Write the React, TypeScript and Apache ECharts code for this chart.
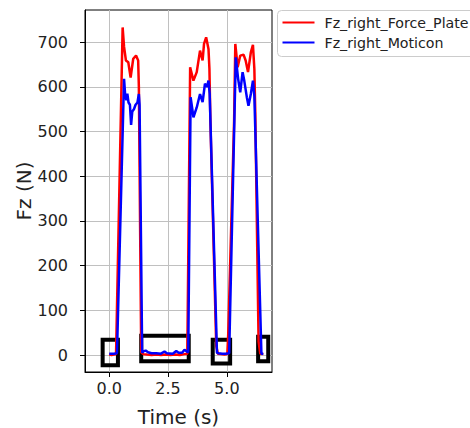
import React, { useEffect, useRef } from "react";
import * as echarts from "echarts";

const seriesNames = ["Fz_right_Force_Plate", "Fz_right_Moticon"];

const timeForcePlate = [
  0.0, 0.1, 0.2, 0.29, 0.57, 0.63, 0.71, 0.81, 0.91, 1.02, 1.14, 1.23, 1.26, 1.36,
  1.45, 1.6, 1.8, 2.0, 2.2, 2.4, 2.6, 2.8, 3.0, 3.2, 3.32, 3.44, 3.58, 3.72, 3.86,
  3.97, 4.03, 4.12, 4.22, 4.26, 4.3, 4.55, 4.62, 4.75, 4.9, 5.02, 5.06, 5.31, 5.36,
  5.46, 5.57, 5.71, 5.8, 5.9, 6.02, 6.11, 6.17, 6.21, 6.35, 6.42, 6.55,
];
const fzForcePlate = [
  1, 0, 1, 2, 733, 690, 659, 655, 621, 663, 670, 659, 600, 6,
  2, 1, 0, 1, 0, 1, 0, 1, 0, 2, 3, 644, 614, 633, 681,
  659, 696, 711, 685, 640, 525, 20, 3, 2, 1, 2, 48, 525, 696,
  644, 670, 672, 659, 633, 677, 694, 640, 540, 30, 3, 2,
];

const timeMoticon = [
  0.0, 0.1, 0.2, 0.33, 0.63, 0.68, 0.73, 0.77, 0.82, 0.88, 0.93, 0.98, 1.05, 1.12,
  1.2, 1.26, 1.29, 1.4, 1.45, 1.55, 1.65, 1.8, 2.0, 2.2, 2.35, 2.45, 2.7, 2.85, 2.95,
  3.1, 3.2, 3.3, 3.36, 3.46, 3.58, 3.72, 3.86, 3.97, 4.07, 4.16, 4.22, 4.27, 4.58,
  4.65, 4.8, 4.95, 5.1, 5.38, 5.48, 5.57, 5.67, 5.74, 5.85, 5.92, 6.02, 6.11, 6.17,
  6.47, 6.55,
];
const fzMoticon = [
  3, 3, 3, 4, 618, 580, 570, 585, 565, 560, 515, 545, 550, 560,
  565, 584, 560, 5, 8, 10, 6, 4, 4, 3, 8, 4, 3, 9, 5,
  5, 12, 8, 6, 577, 532, 554, 584, 566, 607, 600, 614, 585, 5,
  4, 3, 3, 4, 666, 618, 588, 633, 614, 577, 558, 584, 614, 580,
  3, 3,
];

const xTicks = [0, 2.5, 5.0];
const yTicks = [0, 100, 200, 300, 400, 500, 600, 700];

// highlight boxes in data coordinates: [xStart, yBottom, xEnd, yTop]
const highlightBoxes = [
  [-0.28, -23, 0.37, 34],
  [1.36, -14, 3.38, 43],
  [4.4, -19, 5.14, 34],
  [6.33, -14, 6.76, 41],
];

const FONT = "DejaVu Sans";

export default function App() {
  const ref = useRef<HTMLDivElement>(null);

  useEffect(() => {
    if (!ref.current) return;
    const chart = echarts.init(ref.current, null, { renderer: "svg" });

    const fpData = timeForcePlate.map((t, i) => [t, fzForcePlate[i]]);
    const moData = timeMoticon.map((t, i) => [t, fzMoticon[i]]);

    const option: any = {
      animation: false,
      backgroundColor: "#fff",
      grid: {
        left: 85,
        top: 10,
        width: 187,
        height: 362,
        show: true,
        borderColor: "#000",
        borderWidth: 1,
        backgroundColor: "#fff",
        outerBoundsMode: "none",
      },
      xAxis: {
        type: "value",
        min: -1.03,
        max: 6.92,
        name: "Time (s)",
        nameLocation: "middle",
        nameGap: 35,
        nameTextStyle: { fontFamily: FONT, fontSize: 20, color: "#222" },
        axisLine: { show: true, onZero: false, lineStyle: { color: "#000", width: 1 } },
        axisTick: { show: true, length: 5, customValues: xTicks, lineStyle: { color: "#000" } },
        axisLabel: {
          customValues: xTicks,
          fontFamily: FONT,
          fontSize: 16,
          color: "#222",
          margin: 8,
          formatter: (v: number) => v.toFixed(1),
        },
        splitLine: { show: true, lineStyle: { color: "#c0c0c0", width: 1 } },
      },
      yAxis: {
        type: "value",
        min: -38,
        max: 772,
        name: "Fz (N)",
        nameLocation: "middle",
        nameGap: 50,
        nameRotate: 90,
        nameTextStyle: { fontFamily: FONT, fontSize: 20, color: "#222" },
        axisLine: { show: true, onZero: false, lineStyle: { color: "#000", width: 1 } },
        axisTick: { show: true, length: 5, customValues: yTicks, lineStyle: { color: "#000" } },
        axisLabel: {
          customValues: yTicks,
          fontFamily: FONT,
          fontSize: 16,
          color: "#222",
          margin: 17,
          formatter: (v: number) => String(v),
        },
        splitLine: { show: true, lineStyle: { color: "#c0c0c0", width: 1 } },
      },
      series: [
        {
          name: seriesNames[0],
          type: "line",
          data: fpData,
          showSymbol: false,
          symbol: "none",
          lineStyle: { color: "#ff0000", width: 2.5 },
          itemStyle: { color: "#ff0000" },
          z: 2,
        },
        {
          name: seriesNames[1],
          type: "line",
          data: moData,
          showSymbol: false,
          symbol: "none",
          lineStyle: { color: "#0000ff", width: 2.5 },
          itemStyle: { color: "#0000ff" },
          z: 3,
        },
        {
          name: "boxes",
          type: "line",
          data: [],
          z: 10,
          markArea: {
            silent: true,
            itemStyle: { color: "rgba(0,0,0,0)", borderColor: "#000", borderWidth: 4 },
            label: { show: false },
            data: highlightBoxes.map((b) => [
              { xAxis: b[0], yAxis: b[3] },
              { xAxis: b[2], yAxis: b[1] },
            ]),
          },
        },
      ],
      graphic: [
        {
          type: "group",
          left: 277,
          top: 10,
          children: [
            {
              type: "rect",
              shape: { x: 0, y: 0, width: 215, height: 46, r: 4 },
              style: { fill: "#fff", stroke: "#cccccc", lineWidth: 1 },
            },
            {
              type: "line",
              shape: { x1: 5, y1: 12, x2: 37, y2: 12 },
              style: { stroke: "#ff0000", lineWidth: 2 },
            },
            {
              type: "text",
              x: 47,
              y: 12,
              style: {
                text: seriesNames[0],
                fontFamily: FONT,
                fontSize: 14.2,
                fill: "#222",
                verticalAlign: "middle",
              },
            },
            {
              type: "line",
              shape: { x1: 5, y1: 32, x2: 37, y2: 32 },
              style: { stroke: "#0000ff", lineWidth: 2 },
            },
            {
              type: "text",
              x: 47,
              y: 32,
              style: {
                text: seriesNames[1],
                fontFamily: FONT,
                fontSize: 14.2,
                fill: "#222",
                verticalAlign: "middle",
              },
            },
          ],
        },
      ],
    };

    chart.setOption(option);
    return () => chart.dispose();
  }, []);

  return (
    <div
      ref={ref}
      style={{ position: "fixed", left: 0, top: 0, width: 470, height: 428, background: "#fff" }}
    />
  );
}
